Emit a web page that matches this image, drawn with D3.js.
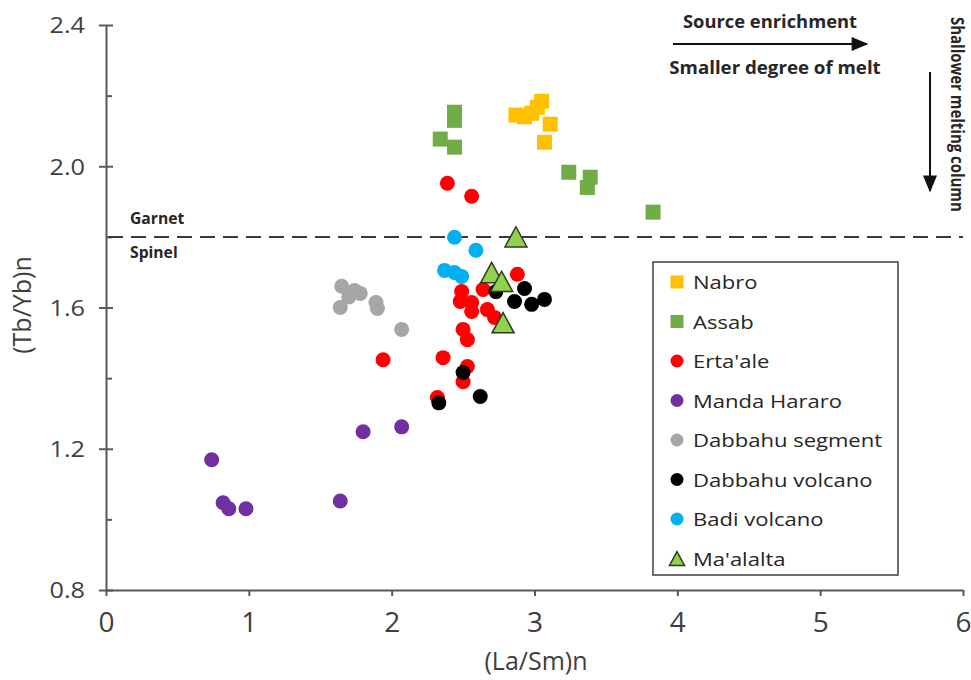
<!DOCTYPE html>
<html>
<head>
<meta charset="utf-8">
<script src="https://cdn.jsdelivr.net/npm/d3@7"></script>
<style>
  body { margin: 0; background: #fff; }
  svg { display: block; font-family: "Open Sans", sans-serif; }
</style>
</head>
<body>
<svg id="chart" width="971" height="680"></svg>
<script>
// data: [ (La/Sm)n, (Tb/Yb)n ]
const nabro = [[2.87, 2.145], [2.93, 2.14], [2.98, 2.15], [3.02, 2.167], [3.05, 2.184], [3.11, 2.119], [3.07, 2.068]];
const assab = [[2.44, 2.153], [2.44, 2.13], [2.34, 2.077], [2.44, 2.054], [3.24, 1.983], [3.39, 1.969], [3.37, 1.94], [3.83, 1.87]];
const ertaAle = [[2.39, 1.952], [2.56, 1.915], [2.88, 1.694], [2.49, 1.645], [2.48, 1.617], [2.56, 1.614], [2.56, 1.589],
    [2.67, 1.594], [2.72, 1.572], [2.64, 1.651], [2.50, 1.538], [2.53, 1.509], [1.94, 1.452], [2.36, 1.458],
    [2.53, 1.433], [2.50, 1.390], [2.32, 1.345]];
const mandaHararo = [[0.74, 1.169], [0.82, 1.047], [0.86, 1.030], [0.98, 1.030], [1.64, 1.052], [1.80, 1.248], [2.07, 1.262]];
const dabbahuSegment = [[1.65, 1.66], [1.74, 1.648], [1.78, 1.64], [1.70, 1.63], [1.64, 1.60], [1.89, 1.614], [1.90, 1.597], [2.07, 1.538]];
const dabbahuVolcano = [[2.73, 1.645], [2.93, 1.654], [2.86, 1.617], [2.98, 1.609], [3.07, 1.623], [2.50, 1.416], [2.62, 1.348], [2.33, 1.330]];
const badiVolcano = [[2.44, 1.799], [2.59, 1.762], [2.37, 1.705], [2.44, 1.699], [2.49, 1.688]];
const maalalta = [[2.87, 1.80], [2.70, 1.699], [2.77, 1.674], [2.78, 1.557]];

const xTicks = [0, 1, 2, 3, 4, 5, 6];
const yTicks = [0.8, 1.2, 1.6, 2.0, 2.4];
const yMinorTicks = [1.0, 1.4, 1.8, 2.2];
const garnetSpinelLine = 1.8;

const series = [
    { name: 'Nabro', data: nabro, shape: 'square', fill: '#FFC000' },
    { name: 'Assab', data: assab, shape: 'square', fill: '#70AD47' },
    { name: "Erta'ale", data: ertaAle, shape: 'circle', fill: '#FF0000' },
    { name: 'Manda Hararo', data: mandaHararo, shape: 'circle', fill: '#7030A0' },
    { name: 'Dabbahu segment', data: dabbahuSegment, shape: 'circle', fill: '#A6A6A6' },
    { name: 'Dabbahu volcano', data: dabbahuVolcano, shape: 'circle', fill: '#000000' },
    { name: 'Badi volcano', data: badiVolcano, shape: 'circle', fill: '#00B0F0' },
    { name: "Ma'alalta", data: maalalta, shape: 'triangle', fill: '#92D050', stroke: '#2F3A1C' }
];

const svg = d3.select('#chart');
const x = d3.scaleLinear().domain([0, 6]).range([106, 963]);
const y = d3.scaleLinear().domain([0.8, 2.4]).range([590, 25]);
const axisColor = '#595959';
const textColor = '#404040';

// text in the figure is stretched sideways a bit
function label (g, px, py, str, size, opts = {}) {
    const sx = opts.sx || 1;
    return g.append('text')
        .attr('transform', `translate(${px},${py}) ${opts.rotate ? `rotate(${opts.rotate})` : ''} scale(${sx},1)`)
        .attr('text-anchor', opts.anchor || 'start')
        .attr('font-size', size)
        .attr('font-weight', opts.bold ? 700 : 400)
        .attr('fill', opts.color || textColor)
        .text(str);
}

// y axis
const yAxis = svg.append('g')
    .attr('transform', `translate(${x(0)},0)`)
    .call(d3.axisLeft(y).tickValues(yTicks).tickFormat(d3.format('.1f')).tickSize(7).tickSizeOuter(0));
yAxis.selectAll('.tick line').attr('x1', 7);
yAxis.selectAll('.tick text')
    .attr('x', null).attr('dy', '0.36em')
    .attr('transform', 'translate(-21,0) scale(1.15,1)')
    .attr('font-size', 22).attr('font-family', '"Open Sans", sans-serif').attr('fill', textColor);

svg.append('g')
    .attr('transform', `translate(${x(0)},0)`)
    .call(d3.axisLeft(y).tickValues(yMinorTicks).tickFormat('').tickSize(-6).tickSizeOuter(0))
    .call(g => g.select('.domain').remove());

// x axis
const xAxis = svg.append('g')
    .attr('transform', `translate(0,${y(0.8)})`)
    .call(d3.axisBottom(x).tickValues(xTicks).tickFormat(d3.format('d')).tickSize(6).tickSizeOuter(0));
xAxis.selectAll('.tick text')
    .attr('y', 22)
    .attr('font-size', 28).attr('font-family', '"Open Sans", sans-serif').attr('fill', textColor);

svg.selectAll('.domain, .tick line').attr('stroke', axisColor).attr('stroke-width', 2);

// axis titles
label(svg, 536, 670, '(La/Sm)n', 25, { anchor: 'middle' });
label(svg, 31, 305, '(Tb/Yb)n', 25, { anchor: 'middle', rotate: -90 });

// garnet / spinel boundary
svg.append('line')
    .attr('x1', x(0) + 2).attr('x2', x(6))
    .attr('y1', y(garnetSpinelLine)).attr('y2', y(garnetSpinelLine))
    .attr('stroke', '#3A3A3A').attr('stroke-width', 2)
    .attr('stroke-dasharray', '15,8');
label(svg, 130, 224, 'Garnet', 16, { bold: true, sx: 0.98, color: '#262626' });
label(svg, 130, 258, 'Spinel', 16, { bold: true, sx: 0.98, color: '#262626' });

// arrows
const defs = svg.append('defs');
defs.append('marker')
    .attr('id', 'head')
    .attr('viewBox', '0 0 12 10')
    .attr('refX', 11).attr('refY', 5)
    .attr('markerWidth', 9).attr('markerHeight', 7)
    .attr('markerUnits', 'strokeWidth')
    .attr('orient', 'auto')
    .append('path')
    .attr('d', 'M0,0 L12,5 L0,10 Z')
    .attr('fill', '#111');

svg.append('line')
    .attr('x1', 673).attr('y1', 44).attr('x2', 867).attr('y2', 44)
    .attr('stroke', '#111').attr('stroke-width', 2)
    .attr('marker-end', 'url(#head)');
label(svg, 770, 28, 'Source enrichment', 17, { bold: true, anchor: 'middle', sx: 1.08, color: '#262626' });
label(svg, 775, 74, 'Smaller degree of melt', 17, { bold: true, anchor: 'middle', sx: 1.1, color: '#262626' });

svg.append('line')
    .attr('x1', 930).attr('y1', 72).attr('x2', 930).attr('y2', 191)
    .attr('stroke', '#111').attr('stroke-width', 2)
    .attr('marker-end', 'url(#head)');
label(svg, 951, 17, 'Shallower melting column', 17, { bold: true, rotate: 90, sx: 0.88, color: '#262626' });

// markers
function drawMarker (sel, shape, size) {
    if (shape === 'square') {
        sel.append('rect')
            .attr('x', -size / 2).attr('y', -size / 2)
            .attr('width', size).attr('height', size);
    } else if (shape === 'circle') {
        sel.append('circle').attr('r', size / 2);
    } else {
        const h = size * 0.92;
        sel.append('path')
            .attr('d', `M0,${-h / 2} L${size / 2},${h / 2} L${-size / 2},${h / 2} Z`)
            .attr('stroke-width', 1.5)
            .attr('stroke-linejoin', 'miter');
    }
}

series.forEach((s) => {
    const pts = svg.append('g')
        .selectAll('g')
        .data(s.data)
        .join('g')
        .attr('transform', d => `translate(${x(d[0])},${y(d[1])})`)
        .attr('fill', s.fill)
        .attr('stroke', s.stroke || 'none');
    pts.each(function () {
        drawMarker(d3.select(this), s.shape, s.shape === 'triangle' ? 22 : 15);
    });
});

// legend
const legend = svg.append('g');
legend.append('rect')
    .attr('x', 653).attr('y', 262).attr('width', 245).attr('height', 313)
    .attr('fill', '#fff').attr('stroke', '#404040').attr('stroke-width', 1.5);
series.forEach((s, i) => {
    const cy = 282 + i * 39.5;
    const item = legend.append('g')
        .attr('transform', `translate(677,${cy})`)
        .attr('fill', s.fill)
        .attr('stroke', s.stroke || 'none');
    drawMarker(item, s.shape, s.shape === 'triangle' ? 15 : 13);
    label(legend, 693, cy + 7, s.name, 19, { sx: 1.16, color: '#262626' });
});
</script>
</body>
</html>
